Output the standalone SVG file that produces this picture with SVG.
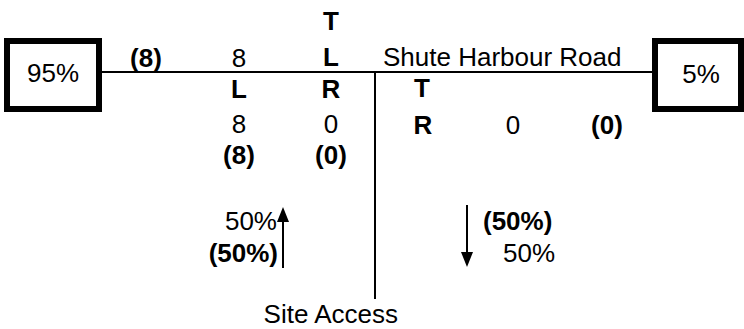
<svg xmlns="http://www.w3.org/2000/svg" width="744" height="329" viewBox="0 0 744 329">
  <style>
    text { font-family: "Liberation Sans", Arial, sans-serif; font-size: 26px; fill: #000; }
    .b { font-weight: bold; }
    .c { text-anchor: middle; }
    .e { text-anchor: end; }
    .box { fill: #fff; stroke: #000; stroke-width: 6; }
    .road { stroke: #000; stroke-width: 2; fill: none; }
    .flow { stroke: #000; stroke-width: 2; fill: none; }
  </style>
  <defs>
    <marker id="head" viewBox="0 0 12 15" refX="6" refY="15" markerWidth="12" markerHeight="15" markerUnits="userSpaceOnUse" orient="auto-start-reverse">
      <path d="M0 15 L6 0 L12 15 Z" fill="#000"/>
    </marker>
  </defs>

  <!-- roads -->
  <g id="connectors">
    <line class="road" x1="102" y1="72" x2="652" y2="72"/>
    <line class="road" x1="375" y1="72" x2="375" y2="299"/>
    <!-- inbound / outbound flow arrows on the access -->
    <line class="flow" x1="283" y1="268" x2="283" y2="222"/>
    <polygon points="283,207 277,222 289,222" fill="#000"/>
    <line class="flow" x1="467" y1="205" x2="467" y2="252"/>
    <polygon points="467,267 461,252 473,252" fill="#000"/>
  </g>

  <g id="west-split">
    <rect class="box" x="7" y="41" width="92" height="68"/>
    <text class="c" x="53" y="82">95%</text>
  </g>

  <g id="east-split">
    <rect class="box" x="655" y="41" width="86" height="68"/>
    <text class="c" x="701" y="83">5%</text>
  </g>

  <g id="road-name">
    <text x="383" y="66">Shute Harbour Road</text>
  </g>

  <g id="west-approach">
    <text class="b c" x="146" y="67">(8)</text>
    <text class="c" x="239" y="67">8</text>
    <text class="b c" x="331" y="30">T</text>
    <text class="b c" x="331" y="66">L</text>
  </g>

  <g id="access-approach">
    <text class="b c" x="239" y="98">L</text>
    <text class="b c" x="331" y="98">R</text>
    <text class="c" x="239" y="133">8</text>
    <text class="c" x="331" y="133">0</text>
    <text class="b c" x="239" y="164">(8)</text>
    <text class="b c" x="331" y="164">(0)</text>
  </g>

  <g id="east-approach">
    <text class="b c" x="422" y="97">T</text>
    <text class="b c" x="423" y="134">R</text>
    <text class="c" x="513" y="134">0</text>
    <text class="b c" x="607" y="134">(0)</text>
  </g>

  <g id="access-split">
    <text class="e" x="277" y="230">50%</text>
    <text class="b e" x="278" y="262">(50%)</text>
    <text class="b" x="483" y="230">(50%)</text>
    <text x="503" y="262">50%</text>
  </g>

  <g id="site-access">
    <text class="e" x="398" y="323">Site Access</text>
  </g>
</svg>
